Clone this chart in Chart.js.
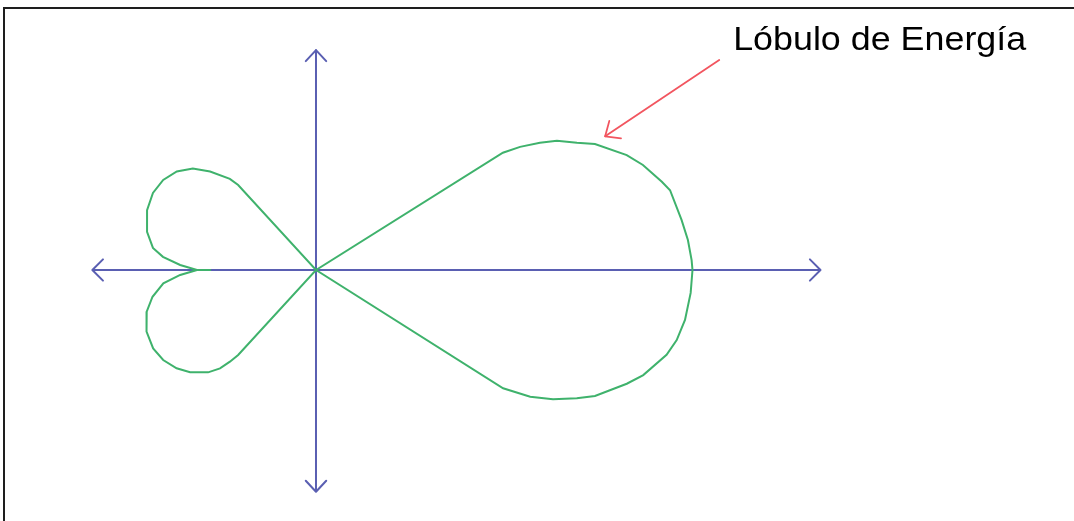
<!DOCTYPE html>
<html>
<head>
<meta charset="utf-8">
<script src="https://cdn.jsdelivr.net/npm/chart.js@4/dist/chart.umd.min.js"></script>
<style>
  html, body { margin: 0; padding: 0; background: #ffffff; }
  #wrap { width: 1074px; height: 521px; }
</style>
</head>
<body>
<div id="wrap"><canvas id="c" width="1074" height="521"></canvas></div>
<script>
// ---- Pattern data (polar: angle in degrees, relative gain; main lobe = 1) ----
const angleDeg = [0, 1.5, 4.6, 7.8, 12.7, 14.3, 17.8, 20.3, 24.3, 26.0, 28.2, 29.6, 31.1, 32.1,
  90,
  132.5, 133.4, 137.1, 140.5, 144.7, 149.5, 154.7, 160.5, 167.3, 172.3, 175.1, 177.9,
  180, 180, 180,
  182.1, 185.0, 189.3, 193.8, 200.0, 205.7, 210.5, 215.2, 219.1, 223.5, 225.7, 226.8, 227.5,
  270,
  327.7, 329.4, 331.4, 333.8, 335.7, 339.9, 342.2, 346.4, 349.0, 352.3, 356.5, 360];
const gain = [1.000, 0.998, 0.991, 0.980, 0.964, 0.948, 0.912, 0.880, 0.813, 0.771, 0.726, 0.684, 0.633, 0.586,
  0,
  0.306, 0.333, 0.384, 0.424, 0.453, 0.471, 0.479, 0.476, 0.460, 0.437, 0.408, 0.361,
  0.316, 0.279, 0.316,
  0.361, 0.407, 0.440, 0.463, 0.479, 0.480, 0.471, 0.453, 0.431, 0.395, 0.365, 0.334, 0.306,
  0,
  0.588, 0.661, 0.717, 0.772, 0.813, 0.879, 0.913, 0.958, 0.976, 0.989, 0.997, 1.000];

// ---- Axes extents (same units) ----
const hAxis = [-0.594, 1.340];
const vAxis = [-0.589, 0.584];

// ---- Annotation ----
const labelText = "Lóbulo de Energía";
const arrowFrom = [1.071, 0.558];
const arrowTo = [0.768, 0.355];
const labelPos = [1.108, 0.583];

// ---- View window ----
const xRange = [-0.8393, 2.0133];
const yRange = [-0.6667, 0.7171];

const GREEN = '#3fb26c';
const BLUE = '#5a5fb2';
const RED = '#f2555f';

const lobePoints = angleDeg.map((a, i) => {
  const t = a * Math.PI / 180;
  return { x: gain[i] * Math.cos(t), y: gain[i] * Math.sin(t) };
});

function arrowHead(ctx, tip, from, len, angDeg) {
  const dx = from.x - tip.x, dy = from.y - tip.y;
  const d = Math.hypot(dx, dy);
  const ux = dx / d, uy = dy / d;
  const a = angDeg * Math.PI / 180;
  ctx.beginPath();
  for (const s of [1, -1]) {
    const c = Math.cos(s * a), sn = Math.sin(s * a);
    const bx = ux * c - uy * sn, by = ux * sn + uy * c;
    ctx.moveTo(tip.x + bx * len, tip.y + by * len);
    ctx.lineTo(tip.x, tip.y);
  }
  ctx.stroke();
}

const decor = {
  id: 'decor',
  beforeDraw(chart) {
    const ctx = chart.ctx;
    ctx.save();
    ctx.fillStyle = '#ffffff';
    ctx.fillRect(0, 0, chart.width, chart.height);
    ctx.strokeStyle = '#1e1e1e';
    ctx.lineWidth = 2;
    ctx.beginPath();
    ctx.moveTo(4, chart.height + 2);
    ctx.lineTo(4, 8);
    ctx.lineTo(chart.width + 2, 8);
    ctx.stroke();
    ctx.restore();
  },
  afterDatasetsDraw(chart) {
    const ctx = chart.ctx;
    const xs = chart.scales.x, ys = chart.scales.y;
    const P = (x, y) => ({ x: xs.getPixelForValue(x), y: ys.getPixelForValue(y) });
    ctx.save();
    ctx.lineCap = 'round';
    ctx.lineJoin = 'round';
    // axis arrowheads
    ctx.strokeStyle = BLUE;
    ctx.lineWidth = 2;
    arrowHead(ctx, P(hAxis[0], 0), P(0, 0), 15, 45);
    arrowHead(ctx, P(hAxis[1], 0), P(0, 0), 15, 45);
    arrowHead(ctx, P(0, vAxis[0]), P(0, 0), 15, 43);
    arrowHead(ctx, P(0, vAxis[1]), P(0, 0), 15, 43);
    // red annotation arrow
    const a0 = P(arrowFrom[0], arrowFrom[1]), a1 = P(arrowTo[0], arrowTo[1]);
    ctx.strokeStyle = RED;
    ctx.lineWidth = 1.8;
    ctx.beginPath();
    ctx.moveTo(a0.x, a0.y);
    ctx.lineTo(a1.x, a1.y);
    ctx.stroke();
    arrowHead(ctx, a1, a0, 16, 41);
    // label
    const lp = P(labelPos[0], labelPos[1]);
    ctx.font = '33px "Liberation Sans", Arial, sans-serif';
    ctx.fillStyle = '#000000';
    ctx.textAlign = 'left';
    ctx.textBaseline = 'alphabetic';
    const w = ctx.measureText(labelText).width;
    const sx = 293 / w;
    ctx.translate(lp.x, lp.y);
    ctx.scale(sx, 1);
    ctx.fillText(labelText, 0, 0);
    ctx.restore();
  }
};

new Chart(document.getElementById('c'), {
  type: 'scatter',
  data: {
    datasets: [
      {
        label: 'Lóbulo',
        data: lobePoints,
        showLine: true,
        borderColor: GREEN,
        borderWidth: 2,
        pointRadius: 0,
        tension: 0,
        fill: false
      },
      {
        label: 'Eje X',
        data: [{ x: hAxis[0], y: 0 }, { x: hAxis[1], y: 0 }],
        showLine: true,
        borderColor: BLUE,
        borderWidth: 2,
        pointRadius: 0
      },
      {
        label: 'Eje Y',
        data: [{ x: 0, y: vAxis[0] }, { x: 0, y: vAxis[1] }],
        showLine: true,
        borderColor: BLUE,
        borderWidth: 2,
        pointRadius: 0
      }
    ]
  },
  options: {
    responsive: false,
    animation: false,
    devicePixelRatio: 1,
    layout: { padding: 0, autoPadding: false },
    plugins: { legend: { display: false }, tooltip: { enabled: false }, title: { display: false } },
    events: [],
    scales: {
      x: { type: 'linear', min: xRange[0], max: xRange[1], display: false },
      y: { type: 'linear', min: yRange[0], max: yRange[1], display: false }
    }
  },
  plugins: [decor]
});
</script>
</body>
</html>
